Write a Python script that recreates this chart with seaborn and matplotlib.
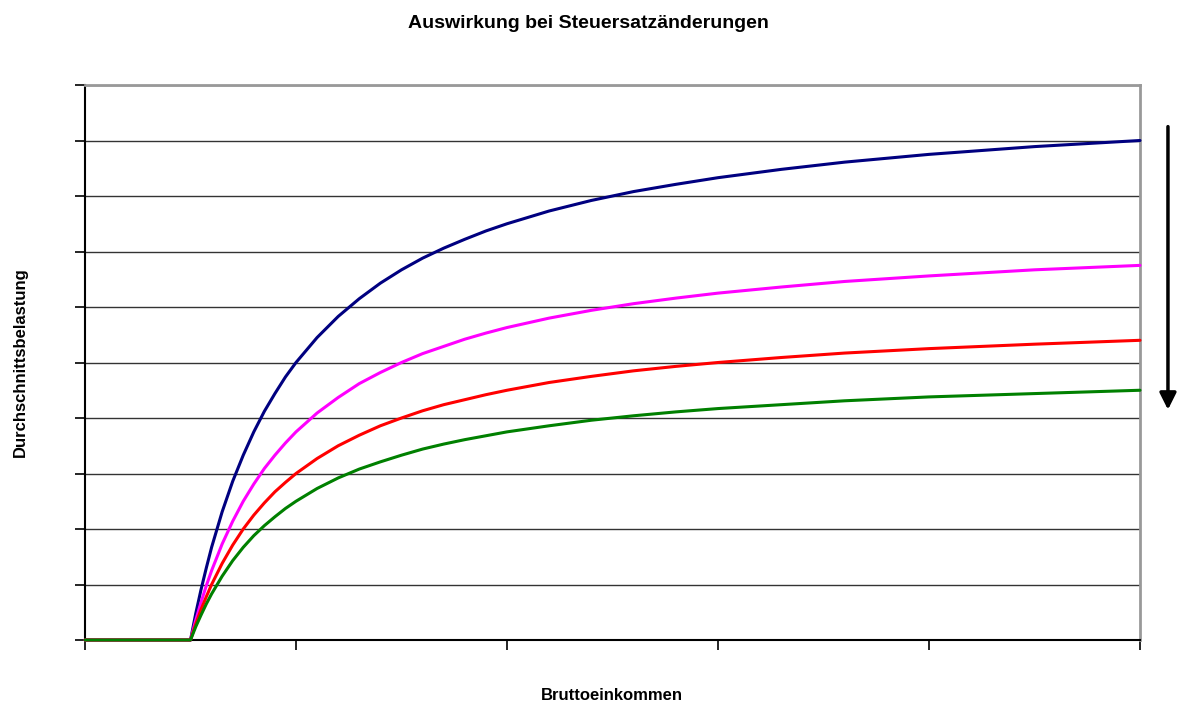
import pandas as pd
import matplotlib.pyplot as plt
import seaborn as sns

# Data (y in grid units 0..10, x in tick units 0..50)
einkommen = [0, 5, 5.25, 5.5, 5.75, 6, 6.5, 7, 7.5, 8, 8.5, 9, 9.5, 10, 11, 12, 13, 14, 15, 16,
             17, 18, 19, 20, 22, 24, 26, 28, 30, 33, 36, 40, 45, 50]
satz_1 = [0, 0, 0.48, 0.91, 1.30, 1.67, 2.31, 2.86, 3.33, 3.75, 4.12, 4.44, 4.74, 5.0, 5.45, 5.83,
          6.15, 6.43, 6.67, 6.88, 7.06, 7.22, 7.37, 7.5, 7.73, 7.92, 8.08, 8.21, 8.33, 8.48,
          8.61, 8.75, 8.89, 9.0]
satz_2 = [0, 0, 0.36, 0.68, 0.98, 1.25, 1.73, 2.14, 2.50, 2.81, 3.09, 3.33, 3.55, 3.75, 4.09, 4.37,
          4.62, 4.82, 5.0, 5.16, 5.29, 5.42, 5.53, 5.63, 5.80, 5.94, 6.06, 6.16, 6.25, 6.36,
          6.46, 6.56, 6.67, 6.75]
satz_3 = [0, 0, 0.29, 0.55, 0.78, 1.0, 1.38, 1.71, 2.0, 2.25, 2.47, 2.67, 2.84, 3.0, 3.27, 3.5,
          3.69, 3.86, 4.0, 4.13, 4.24, 4.33, 4.42, 4.5, 4.64, 4.75, 4.85, 4.93, 5.0, 5.09,
          5.17, 5.25, 5.33, 5.4]
satz_4 = [0, 0, 0.24, 0.45, 0.65, 0.83, 1.15, 1.43, 1.67, 1.88, 2.06, 2.22, 2.37, 2.5, 2.73, 2.92,
          3.08, 3.21, 3.33, 3.44, 3.53, 3.61, 3.68, 3.75, 3.86, 3.96, 4.04, 4.11, 4.17, 4.24,
          4.31, 4.38, 4.44, 4.5]
farben = ['#000080', '#FF00FF', '#FF0000', '#008000']

df = pd.DataFrame({'x': einkommen * 4,
                   'y': satz_1 + satz_2 + satz_3 + satz_4,
                   'satz': sum([[i] * len(einkommen) for i in range(4)], [])})

sns.set_style('white')
plt.rcParams['font.family'] = ['Liberation Sans', 'DejaVu Sans']

fig = plt.figure(figsize=(11.77, 7.06), dpi=100)
ax = fig.add_axes([85 / 1177, 66 / 706, 1055 / 1177, 555 / 706])

for i in range(4):
    sns.lineplot(data=df[df['satz'] == i], x='x', y='y', color=farben[i],
                 linewidth=2.2, ax=ax, legend=False, clip_on=False, zorder=3 + i)

ax.set_xlim(0, 50)
ax.set_ylim(0, 10)
ax.set_xticks(range(0, 51, 10))
ax.set_yticks(range(0, 11))
ax.set_xticklabels([])
ax.set_yticklabels([])
ax.set_xlabel('')
ax.set_ylabel('')
ax.grid(axis='y', color='#333333', linewidth=1)
ax.set_axisbelow(True)
ax.tick_params(axis='both', direction='out', length=7, width=1.2, color='black',
               left=True, bottom=True)
for s in ['left', 'bottom']:
    ax.spines[s].set_color('black')
    ax.spines[s].set_linewidth(1.5)
for s in ['top', 'right']:
    ax.spines[s].set_color('#999999')
    ax.spines[s].set_linewidth(2)

fig.text(612 / 1177, 10 / 706, 'Bruttoeinkommen', fontsize=12, fontweight='bold',
         ha='center', va='center', color='black')
fig.text(20 / 1177, 1 - 362 / 706, 'Durchschnittsbelastung', fontsize=12, fontweight='bold',
         ha='center', va='center', rotation=90, color='black')
fig.text(588 / 1177, 1 - 23 / 706, 'Auswirkung bei Steuersatzänderungen', fontsize=14,
         fontweight='bold', ha='center', va='center', color='black')

# Pfeil rechts neben dem Diagramm
ax.annotate('', xy=(1.0265, 0.41), xytext=(1.0265, 0.93), xycoords='axes fraction',
            arrowprops=dict(arrowstyle='-|>', color='black', lw=2.5, mutation_scale=25),
            annotation_clip=False)

plt.savefig('out.png', dpi=100)
